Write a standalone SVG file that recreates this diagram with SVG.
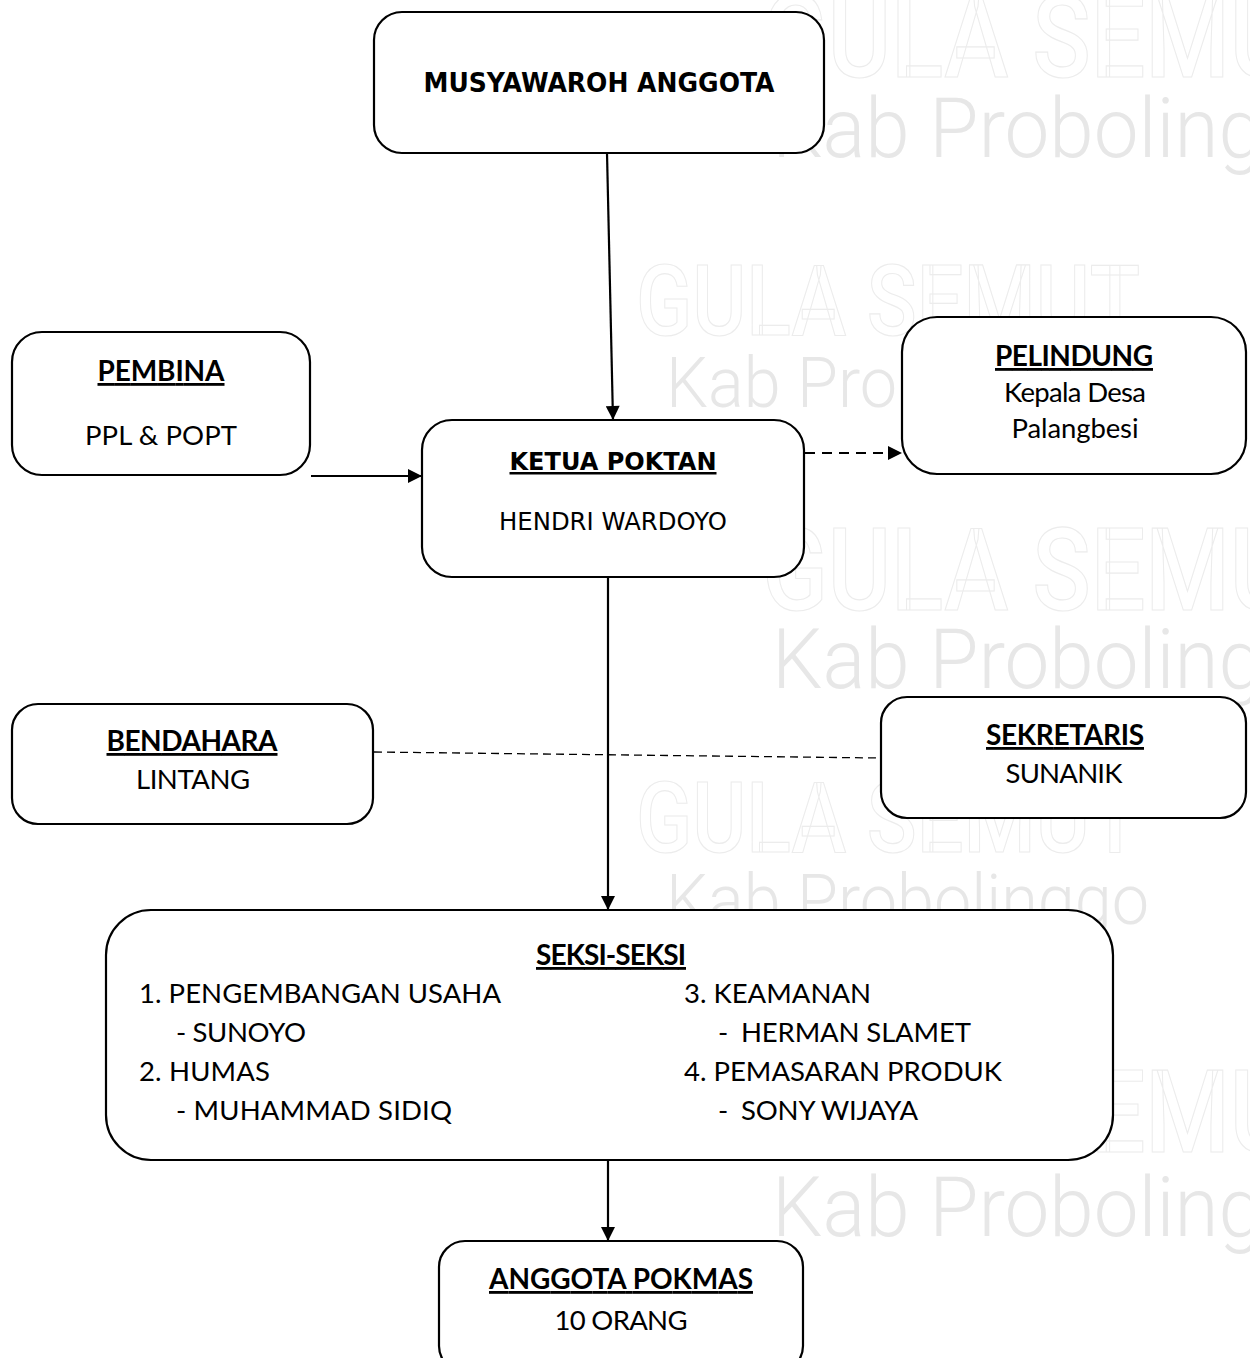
<svg xmlns="http://www.w3.org/2000/svg" width="1250" height="1358" viewBox="0 0 1250 1358">
<style>
.box{fill:#fff;stroke:#000;stroke-width:2.2}
.wm1{font-family:Roboto,"DejaVu Sans",sans-serif;font-weight:500;fill:none;stroke:#ececec;stroke-width:1.2}
.wm2{font-family:Roboto,"DejaVu Sans",sans-serif;font-weight:300;fill:#e7e7e7}
.t{font-family:Lato,"Liberation Sans",sans-serif;font-size:27.5px;fill:#000}
.h{font-family:Lato,"Liberation Sans",sans-serif;font-size:28px;font-weight:bold;fill:#000;text-decoration:underline}
.tb{font-family:"DejaVu Sans",Verdana,sans-serif;font-weight:bold;fill:#000}
.tr{font-family:"DejaVu Sans",Verdana,sans-serif;fill:#000}
.c{text-anchor:middle}
.ln{stroke:#000;stroke-width:2.2;fill:none}
</style>
<defs>
<marker id="arr" viewBox="0 0 10 10" refX="10" refY="5" markerWidth="16" markerHeight="14" markerUnits="userSpaceOnUse" orient="auto"><path d="M0,0 L10,5 L0,10 z" fill="#000"/></marker>
</defs>
<rect width="1250" height="1358" fill="#fff"/>
<g id="watermark">
<text class="wm1" x="762" y="77" font-size="115" textLength="590" lengthAdjust="spacingAndGlyphs">GULA SEMUT</text>
<text class="wm2" x="772" y="157" font-size="84" textLength="580" lengthAdjust="spacingAndGlyphs">Kab Probolinggo</text>
<text class="wm1" x="636" y="335" font-size="99" textLength="504" lengthAdjust="spacingAndGlyphs">GULA SEMUT</text>
<text class="wm2" x="666" y="407" font-size="70" textLength="483" lengthAdjust="spacingAndGlyphs">Kab Probolinggo</text>
<text class="wm1" x="762" y="610" font-size="115" textLength="590" lengthAdjust="spacingAndGlyphs">GULA SEMUT</text>
<text class="wm2" x="772" y="688" font-size="84" textLength="580" lengthAdjust="spacingAndGlyphs">Kab Probolinggo</text>
<text class="wm1" x="636" y="852" font-size="99" textLength="504" lengthAdjust="spacingAndGlyphs">GULA SEMUT</text>
<text class="wm2" x="666" y="924" font-size="70" textLength="483" lengthAdjust="spacingAndGlyphs">Kab Probolinggo</text>
<text class="wm1" x="762" y="1152" font-size="115" textLength="590" lengthAdjust="spacingAndGlyphs">GULA SEMUT</text>
<text class="wm2" x="772" y="1236" font-size="84" textLength="580" lengthAdjust="spacingAndGlyphs">Kab Probolinggo</text>
</g>
<g id="musyawaroh">
<rect class="box" x="374" y="12" width="450" height="141" rx="28"/>
<text class="tb c" x="599" y="92" font-size="26" textLength="351" lengthAdjust="spacingAndGlyphs">MUSYAWAROH ANGGOTA</text>
</g>
<g id="pembina">
<rect class="box" x="12" y="332" width="298" height="143" rx="30"/>
<text class="h c" x="161" y="381" textLength="127">PEMBINA</text>
<text class="t c" x="161" y="445" textLength="152">PPL &amp; POPT</text>
</g>
<g id="ketua">
<rect class="box" x="422" y="420" width="382" height="157" rx="30"/>
<text class="tb c" x="613" y="470" font-size="25" text-decoration="underline" textLength="207" lengthAdjust="spacingAndGlyphs">KETUA POKTAN</text>
<text class="tr c" x="613" y="530" font-size="24" textLength="228" lengthAdjust="spacingAndGlyphs">HENDRI WARDOYO</text>
</g>
<g id="pelindung">
<rect class="box" x="902" y="317" width="344" height="157" rx="35"/>
<text class="h c" x="1074" y="366" textLength="158">PELINDUNG</text>
<text class="t c" x="1075" y="402" textLength="142">Kepala Desa</text>
<text class="t c" x="1075" y="438" textLength="127">Palangbesi</text>
</g>
<g id="bendahara">
<rect class="box" x="12" y="704" width="361" height="120" rx="26"/>
<text class="h c" x="192" y="751" textLength="171">BENDAHARA</text>
<text class="t c" x="193" y="789" textLength="114">LINTANG</text>
</g>
<g id="sekretaris">
<rect class="box" x="881" y="697" width="365" height="121" rx="26"/>
<text class="h c" x="1065" y="745" textLength="158">SEKRETARIS</text>
<text class="t c" x="1064" y="783" textLength="117">SUNANIK</text>
</g>
<g id="seksi">
<rect class="box" x="106" y="910" width="1007" height="250" rx="45"/>
<text class="h c" x="611" y="965" textLength="150">SEKSI-SEKSI</text>
<text class="t" x="139" y="1003" textLength="362">1. PENGEMBANGAN USAHA</text>
<text class="t" x="176" y="1042" textLength="130">- SUNOYO</text>
<text class="t" x="139" y="1081" textLength="131">2. HUMAS</text>
<text class="t" x="176" y="1120" textLength="276">- MUHAMMAD SIDIQ</text>
<text class="t" x="684" y="1003" textLength="187">3. KEAMANAN</text>
<text class="t" y="1042"><tspan x="718">-</tspan><tspan x="741" textLength="230">HERMAN SLAMET</tspan></text>
<text class="t" x="684" y="1081" textLength="318">4. PEMASARAN PRODUK</text>
<text class="t" y="1120"><tspan x="718">-</tspan><tspan x="741" textLength="177">SONY WIJAYA</tspan></text>
</g>
<g id="anggota">
<rect class="box" x="439" y="1241" width="364" height="131" rx="26"/>
<text class="h c" x="621" y="1289" textLength="264">ANGGOTA POKMAS</text>
<text class="t c" x="621" y="1330" textLength="133">10 ORANG</text>
</g>
<g id="connectors">
<line class="ln" x1="607" y1="153" x2="613" y2="420" marker-end="url(#arr)"/>
<line class="ln" x1="311" y1="476" x2="422" y2="476" marker-end="url(#arr)"/>
<line class="ln" x1="805" y1="453" x2="902" y2="453" stroke-dasharray="10,7" marker-end="url(#arr)"/>
<line class="ln" x1="608" y1="577" x2="608" y2="910" marker-end="url(#arr)"/>
<line x1="374" y1="752" x2="881" y2="758" stroke="#000" stroke-width="1.3" stroke-dasharray="8,5"/>
<line class="ln" x1="608" y1="1160" x2="608" y2="1241" marker-end="url(#arr)"/>
</g>
</svg>
